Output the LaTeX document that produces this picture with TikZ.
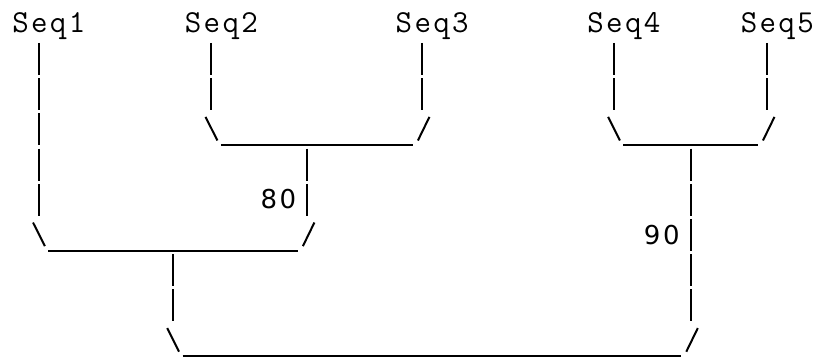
\documentclass[tikz,border=0pt]{standalone}
\usepackage{fontspec}
\newfontfamily\seqfont{Latin Modern Mono}[LetterSpace=7.4]
\newfontfamily\numfont{DejaVu Sans}
\usetikzlibrary{positioning}
\tikzset{
        % Leaf names
        seq_label/.style={anchor=base west, inner sep=0pt, font=\seqfont\fontsize{16}{16}\selectfont},
        % Distances
        dist_label/.style={anchor=base, inner sep=0pt, font=\numfont\fontsize{13}{13}\selectfont},
        % Vertical bars, one dash per text row
        bar/.style={line width=1pt, dash pattern=on 16pt off 1.6pt},
        % Slashes and underscores
        joint/.style={line width=1pt}
}

\begin{document}
\begin{tikzpicture}[x=9.585pt, y=-17.6pt]
            \fill[white] (-0.5217,-0.2216) rectangle (42.046,9.949);
            \useasboundingbox (-0.5217,-0.2216) rectangle (42.046,9.949);

            \node[seq_label] (seq1) at (0.1,0.716) {Seq1};
            \node[seq_label] (seq2) at (9.1,0.716) {Seq2};
            \node[seq_label] (seq3) at (20.1,0.716) {Seq3};
            \node[seq_label] (seq4) at (30.1,0.716) {Seq4};
            \node[seq_label] (seq5) at (38.1,0.716) {Seq5};

            % vertical bars
            \foreach \name/\c/\top/\bot in {seq1/1/1/5, seq2/10/1/2, seq3/21/1/2, seq4/31/1/2, seq5/39/1/2, j23/15/4/5, j45/35/4/8, j123/8/7/8} {
                \coordinate (\name_top) at (\c+0.5,\top);
                \coordinate (\name_bot) at (\c+0.5,\bot+0.91);
                \draw[bar] (\name_top) -- (\name_bot);
            }

            % joins: \ then ___ then /
            \foreach \name/\l/\r/\row in {j23/10/21/3, j45/31/39/3, j123/1/15/6, jall/8/35/9} {
                \coordinate (\name_l) at (\l,\row);
                \coordinate (\name_r) at (\r,\row);
                \draw[joint] (\name_l) ++(0.2,0.1) -- ++(0.62,0.67);
                \draw[joint] (\name_l) ++(1,0.9) -- ([shift={(0,0.9)}]\name_r);
                \draw[joint] (\name_r) ++(0.28,0.77) -- ++(0.6,-0.67);
            }

            \node[dist_label] (d80) at (14,5.716) {8\kern1.3pt0};
            \node[dist_label] (d90) at (34,6.716) {9\kern1.3pt0};
        \end{tikzpicture}
\end{document}
